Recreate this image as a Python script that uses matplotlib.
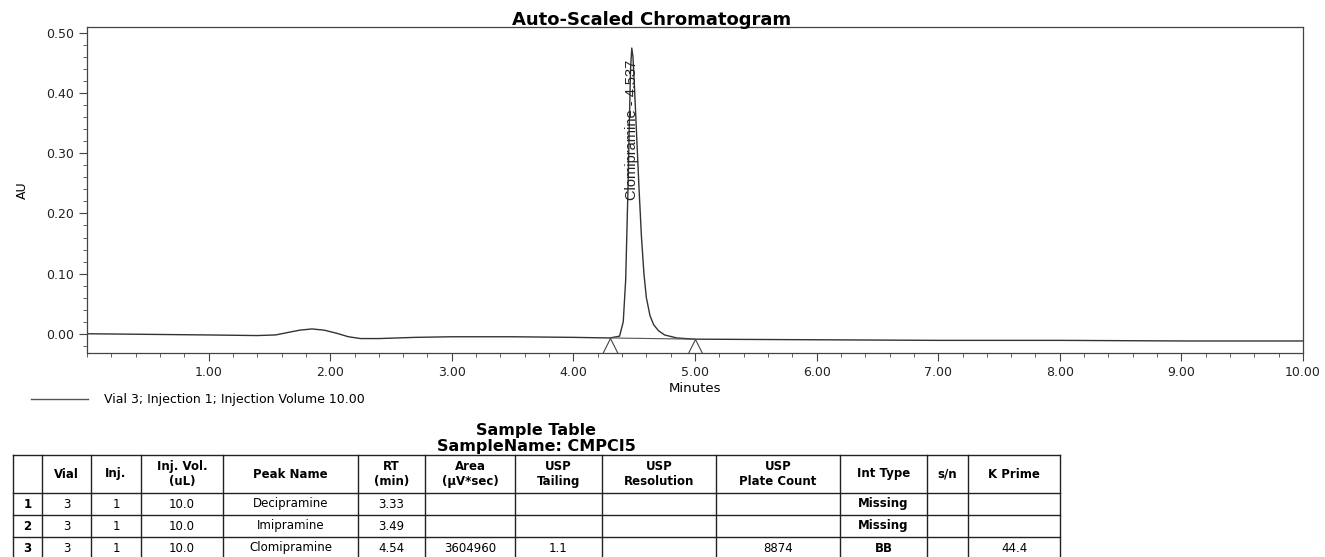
import matplotlib
matplotlib.use("Agg")
import matplotlib.pyplot as plt
from matplotlib.ticker import MultipleLocator, FormatStrFormatter
from matplotlib.lines import Line2D

plt.rcParams["font.family"] = ["DejaVu Sans"]

# ----------------------------------------------------
# Chromatogram trace
# ----------------------------------------------------
time_min = [0.00, 0.50, 1.00, 1.40, 1.55, 1.65, 1.75, 1.85, 1.95, 2.05, 2.15, 2.25,
            2.40, 2.70, 3.00, 3.50, 4.00, 4.30, 4.38, 4.41, 4.43, 4.45, 4.46, 4.47,
            4.48, 4.49, 4.50, 4.52, 4.54, 4.56, 4.58, 4.60, 4.63, 4.66, 4.70, 4.75,
            4.85, 5.00, 6.00, 7.00, 8.00, 9.00, 10.00]
au = [0.000, -0.001, -0.002, -0.003, -0.002, 0.002, 0.006, 0.008, 0.006, 0.001, -0.005, -0.008,
      -0.008, -0.006, -0.005, -0.005, -0.006, -0.007, -0.004, 0.020, 0.090, 0.250, 0.350, 0.440,
      0.475, 0.460, 0.420, 0.330, 0.240, 0.160, 0.100, 0.060, 0.030, 0.015, 0.005, -0.002,
      -0.007, -0.009, -0.010, -0.011, -0.011, -0.012, -0.012]

# integration marks (start / end of peak)
peak_marks_t = [4.30, 5.00]
peak_marks_au = [-0.007, -0.009]
peak_label = "Clomipramine - 4.537"
peak_label_t = 4.485

# ----------------------------------------------------
# Sample table
# ----------------------------------------------------
col_labels = ["", "Vial", "Inj.", "Inj. Vol.\n(uL)", "Peak Name", "RT\n(min)", "Area\n(\u00b5V*sec)",
              "USP\nTailing", "USP\nResolution", "USP\nPlate Count", "Int Type", "s/n", "K Prime"]
rows = [
    ["1", "3", "1", "10.0", "Decipramine", "3.33", "", "", "", "", "Missing", "", ""],
    ["2", "3", "1", "10.0", "Imipramine", "3.49", "", "", "", "", "Missing", "", ""],
    ["3", "3", "1", "10.0", "Clomipramine", "4.54", "3604960", "1.1", "", "8874", "BB", "", "44.4"],
]
col_edges_px = [13, 42, 91, 141, 223, 358, 425, 515, 602, 716, 840, 927, 968, 1060]

W, H = 1325, 557
fig = plt.figure(figsize=(W / 100, H / 100), dpi=100)

ax = fig.add_axes([87 / W, 1 - 353 / H, (1303 - 87) / W, (353 - 27) / H])
ax.plot(time_min, au, color="#333333", lw=1.0)
ax.plot(peak_marks_t, peak_marks_au, color="#555555", lw=0.8)
ax.plot(peak_marks_t, [v - 0.013 for v in peak_marks_au], ls="none", marker="^",
        ms=11, mfc="white", mec="#444444", mew=0.8)
ax.text(peak_label_t, 0.222, peak_label, rotation=90, ha="center", va="bottom", fontsize=10.5,
        color="#222222", family="Liberation Sans")

ax.set_xlim(0, 10)
ax.set_ylim(-0.032, 0.51)
ax.xaxis.set_minor_locator(MultipleLocator(0.2))
ax.yaxis.set_major_locator(MultipleLocator(0.1))
ax.yaxis.set_minor_locator(MultipleLocator(0.02))
ax.xaxis.set_major_formatter(FormatStrFormatter("%.2f"))
ax.yaxis.set_major_formatter(FormatStrFormatter("%.2f"))
ax.set_xticks([1, 2, 3, 4, 5, 6, 7, 8, 9, 10])
ax.tick_params(which="major", length=6, width=0.8, labelsize=9, color="#444444",
               labelcolor="#222222")
ax.tick_params(which="minor", length=3, width=0.6, color="#444444")
for s in ax.spines.values():
    s.set_color("#444444")
    s.set_linewidth(0.9)
ax.set_xlabel("Minutes", fontsize=9.5, labelpad=2)
ax.set_ylabel("AU", fontsize=9, labelpad=12)

fig.text(652 / W, 1 - 20 / H, "Auto-Scaled Chromatogram", ha="center", va="center",
         fontsize=13, fontweight="bold")

handle = Line2D([], [], color="#555555", lw=1.0)
fig.legend([handle], ["Vial 3; Injection 1; Injection Volume 10.00"], loc="center left",
           bbox_to_anchor=(20 / W, 1 - 400 / H), frameon=False, fontsize=9, handlelength=4.5,
           handletextpad=1.3)

# ----------------------------------------------------
# Table
# ----------------------------------------------------
x0, x1 = col_edges_px[0], col_edges_px[-1]
fig.text((x0 + x1) / 2 / W, 1 - 431 / H, "Sample Table", ha="center", va="center",
         fontsize=11.5, fontweight="bold")
fig.text((x0 + x1) / 2 / W, 1 - 446 / H, "SampleName: CMPCI5", ha="center", va="center",
         fontsize=11.5, fontweight="bold")

header_h, row_h = 38, 22
top = 455
tax = fig.add_axes([0, 0, 1, 1])
tax.set_xlim(0, W)
tax.set_ylim(H, 0)
tax.axis("off")
n_rows = len(rows)
bottom = top + header_h + row_h * n_rows
for xe in col_edges_px:
    tax.plot([xe, xe], [top, bottom], color="#222222", lw=1.0)
for ye in [top, top + header_h] + [top + header_h + row_h * (i + 1) for i in range(n_rows)]:
    tax.plot([x0, x1], [ye, ye], color="#222222", lw=1.0)
for j, lab in enumerate(col_labels):
    xc = (col_edges_px[j] + col_edges_px[j + 1]) / 2
    tax.text(xc, top + header_h / 2, lab, ha="center", va="center", fontsize=8.5,
             fontweight="bold", linespacing=1.15)
for i, r in enumerate(rows):
    yc = top + header_h + row_h * i + row_h / 2
    for j, val in enumerate(r):
        xc = (col_edges_px[j] + col_edges_px[j + 1]) / 2
        tax.text(xc, yc, val, ha="center", va="center", fontsize=8.5,
                 fontweight="bold" if j in (0, 10) else "normal")

fig.savefig("out.png", dpi=100)
